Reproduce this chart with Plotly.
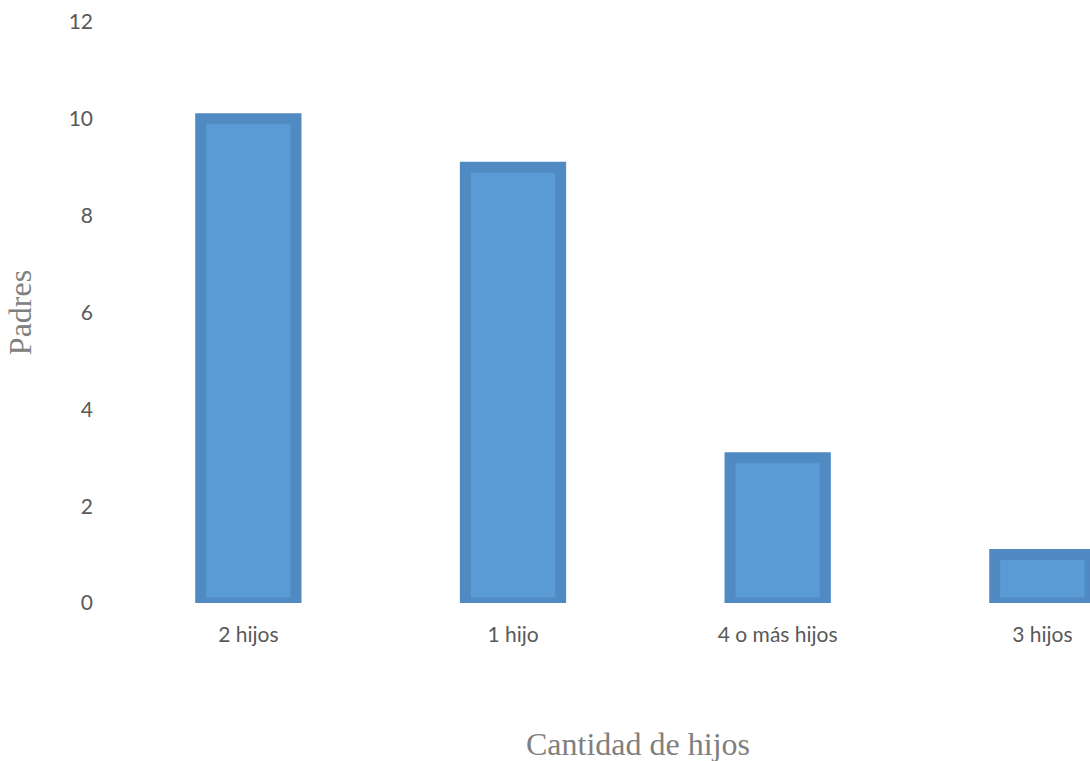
import plotly.graph_objects as go

# Number of parents by number of children
categorias = ["2 hijos", "1 hijo", "4 o más hijos", "3 hijos"]
padres = [10, 9, 3, 1]
y_ticks = [0, 2, 4, 6, 8, 10, 12]

titulo_font = dict(family="Liberation Serif, Times New Roman, serif", size=32, color="#808080")
tick_font = dict(family="Lato, Carlito, Calibri, sans-serif", size=21, color="#595959")

fig = go.Figure(
    go.Bar(
        x=categorias,
        y=padres,
        width=0.36,
        marker=dict(color="#5B9BD5", line=dict(color="#4F8AC2", width=11)),
        hoverinfo="x+y",
    )
)

fig.update_layout(
    width=1090,
    height=761,
    margin=dict(l=116, r=0, t=22, b=158),
    paper_bgcolor="white",
    plot_bgcolor="white",
    showlegend=False,
    font=tick_font,
    xaxis=dict(
        type="category",
        range=[-0.5, 3.18],
        showgrid=False,
        showline=False,
        zeroline=False,
        ticks="",
        ticklabelstandoff=17,
        tickfont=tick_font,
    ),
    yaxis=dict(
        range=[0, 12],
        tickvals=y_ticks,
        showgrid=False,
        showline=False,
        zeroline=False,
        ticks="",
        ticklabelstandoff=22,
        tickfont=tick_font,
        title=dict(text="Padres", font=titulo_font, standoff=27),
    ),
    annotations=[
        dict(
            text="Cantidad de hijos",
            xref="paper",
            yref="paper",
            x=0.536,
            y=-0.243,
            xanchor="center",
            yanchor="middle",
            showarrow=False,
            font=titulo_font,
        )
    ],
)

fig.write_html("out.html")
